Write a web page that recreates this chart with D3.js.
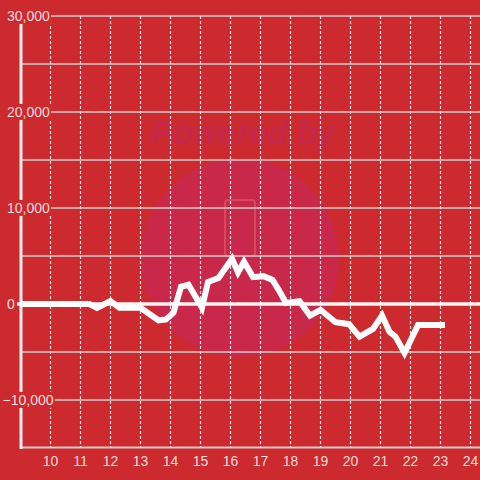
<!DOCTYPE html>
<html>
<head>
<meta charset="utf-8">
<script src="https://cdn.jsdelivr.net/npm/d3@7"></script>
<style>
html,body{margin:0;padding:0;background:#cc2a2e;}
svg{display:block;}
text{font-family:"Liberation Sans",Arial,sans-serif;}
</style>
</head>
<body>
<svg id="chart" width="480" height="480"></svg>
<script>
// Data
const xValues = [9.0, 11.3, 11.55, 12.0, 12.3, 13.0, 13.6, 13.85, 14.1, 14.35, 14.6, 15.05, 15.25, 15.6, 16.05, 16.25, 16.45, 16.75, 17.1, 17.4, 17.6, 17.85, 18.3, 18.65, 19.0, 19.5, 19.95, 20.3, 20.75, 21.05, 21.3, 21.5, 21.8, 22.25, 23.15];
const yValues = [0, 0, -400, 300, -400, -400, -1700, -1600, -900, 1800, 2000, -400, 2300, 2700, 4700, 3300, 4400, 2800, 2900, 2500, 1500, 100, 300, -1200, -600, -1900, -2100, -3400, -2600, -1200, -2900, -3400, -5100, -2200, -2200];
const xTicks = [10, 11, 12, 13, 14, 15, 16, 17, 18, 19, 20, 21, 22, 23, 24];
const yGrid = [30000, 25000, 20000, 15000, 10000, 5000, -5000, -10000];
const yLabelTicks = [30000, 20000, 10000, 0, -10000];

const svg = d3.select("#chart");
const W = 480, H = 480;
const x = d3.scaleLinear().domain([9, 24]).range([20.5, 470.5]);
const y = d3.scaleLinear().domain([-15000, 30000]).range([448, 16]);

const bg = "#cc2a2e";
svg.append("rect").attr("width", W).attr("height", H).attr("fill", bg);

// Watermark
const wm = svg.append("g");
wm.append("circle").attr("cx", 240).attr("cy", 258).attr("r", 99).attr("fill", "#c9284a");
wm.append("text").attr("x", 243).attr("y", 144).attr("text-anchor", "middle")
  .attr("font-size", 33).attr("font-weight", "bold").attr("font-style", "italic")
  .attr("fill", "#c7274a").text("Powered by");
wm.append("rect").attr("x", 225).attr("y", 200).attr("width", 30).attr("height", 56).attr("rx", 3)
  .attr("fill", "none").attr("stroke", "#d24a5e").attr("stroke-width", 2);

// Horizontal gridlines
svg.append("g").selectAll("line").data(yGrid).join("line")
  .attr("x1", 20).attr("x2", W)
  .attr("y1", d => y(d)).attr("y2", d => y(d))
  .attr("stroke", "#d4cccc").attr("stroke-width", 1.3);

// Vertical dotted gridlines
svg.append("g").selectAll("line").data(xTicks).join("line")
  .attr("x1", d => x(d)).attr("x2", d => x(d))
  .attr("y1", 16).attr("y2", 447)
  .attr("stroke", "#e6dede").attr("stroke-width", 1.2)
  .attr("stroke-dasharray", "3,2");

// Bottom axis line
svg.append("line").attr("x1", 20).attr("x2", W).attr("y1", 447.5).attr("y2", 447.5)
  .attr("stroke", "#d4cccc").attr("stroke-width", 2);

// Y axis line
svg.append("line").attr("x1", 21).attr("x2", 21).attr("y1", 16).attr("y2", 449)
  .attr("stroke", "#f2eeee").attr("stroke-width", 3);

// Zero line
svg.append("line").attr("x1", 17).attr("x2", W).attr("y1", y(0)).attr("y2", y(0))
  .attr("stroke", "#faf6f6").attr("stroke-width", 3.5);

// Y labels with background
const yl = svg.append("g").selectAll("g").data(yLabelTicks).join("g")
  .attr("transform", d => `translate(${d < 0 ? 2.5 : 7},${y(d)})`);
yl.append("text").attr("text-anchor", "start").attr("dy", "0.35em")
  .attr("font-size", 14).attr("fill", "#f3dcdc")
  .text(d => d3.format(",")(d))
  .each(function() {
    const b = this.getBBox();
    d3.select(this.parentNode).insert("rect", "text")
      .attr("x", b.x - 1).attr("y", b.y).attr("width", b.width + 2).attr("height", b.height)
      .attr("fill", bg);
  });

// X labels
svg.append("g").selectAll("text").data(xTicks).join("text")
  .attr("x", d => x(d)).attr("y", 466)
  .attr("text-anchor", "middle").attr("font-size", 14).attr("fill", "#f3dcdc")
  .text(d => d);

// Data line
const pts = xValues.map((v, i) => [v, yValues[i]]);
svg.append("path").datum(pts)
  .attr("fill", "none").attr("stroke", "#ffffff").attr("stroke-width", 6)
  .attr("stroke-linejoin", "miter").attr("stroke-linecap", "butt")
  .attr("d", d3.line().x(d => x(d[0])).y(d => y(d[1])));
</script>
</body>
</html>
